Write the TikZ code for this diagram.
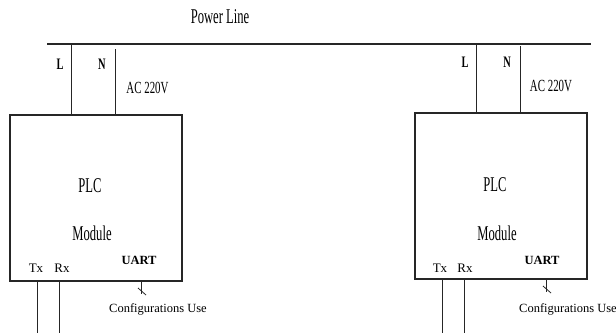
\documentclass[tikz,border=0pt]{standalone}
\usepackage{fontspec}
\setmainfont{Liberation Serif}
\usepackage{graphicx}
\begin{document}
\begin{tikzpicture}[x=1pt,y=-1pt,
  wire/.style={line width=1pt, draw=black!85},
  modbox/.style={draw=black!85, line width=1.1pt, minimum width=172pt, minimum height=166pt, inner sep=0pt},
  cnd/.style={inner sep=0pt, font=\fontsize{21}{21}\selectfont},
  lab/.style={inner sep=0pt, font=\fontsize{16}{16}\selectfont},
  sml/.style={inner sep=0pt, font=\fontsize{12.5}{12.5}\selectfont},
  bld/.style={inner sep=0pt, font=\fontsize{12.5}{12.5}\selectfont\bfseries}]
\useasboundingbox (0,0) rectangle (616,333);
% power line
\coordinate (plA) at (47,44);
\coordinate (plB) at (591,44);
\draw[wire, line width=1.4pt] (plA) -- (plB);
\node[cnd] (title) at (220,17) {\scalebox{0.6}[1]{Power Line}};
% boxes
\node[modbox] (boxA) at (96,198) {};
\node[modbox] (boxB) at (501,196) {};
% taps
\coordinate (LA) at (71,44);
\coordinate (NA) at (115,49);
\coordinate (LB) at (476,44);
\coordinate (NB) at (520,46);
\draw[wire] (LA) -- (LA |- boxA.north);
\draw[wire] (NA) -- (NA |- boxA.north);
\draw[wire] (LB) -- (LB |- boxB.north);
\draw[wire] (NB) -- (NB |- boxB.north);
\node[lab] (lLA) at (60,64) {\scalebox{0.65}[1]{\bfseries L}};
\node[lab] (lNA) at (102,64) {\scalebox{0.65}[1]{\bfseries N}};
\node[lab] (lLB) at (465,62) {\scalebox{0.65}[1]{\bfseries L}};
\node[lab] (lNB) at (507,62) {\scalebox{0.65}[1]{\bfseries N}};
\node[lab, font=\fontsize{17}{17}\selectfont] (acA) at (147.5,88) {\scalebox{0.64}[1]{AC 220V}};
\node[lab, font=\fontsize{17}{17}\selectfont] (acB) at (551,86) {\scalebox{0.64}[1]{AC 220V}};
% box texts
\node[cnd] (plcA) at (90,186) {\scalebox{0.6}[1]{PLC}};
\node[cnd] (modA) at (92,233) {\scalebox{0.6}[1]{Module}};
\node[cnd] (plcB) at (495,185) {\scalebox{0.6}[1]{PLC}};
\node[cnd] (modB) at (497,233) {\scalebox{0.6}[1]{Module}};
\node[bld] (uaA) at (139,260) {UART};
\node[bld] (uaB) at (542,260) {UART};
\node[sml, font=\fontsize{13}{13}\selectfont] (txA) at (36,268) {Tx};
\node[sml, font=\fontsize{13}{13}\selectfont] (rxA) at (62,268) {Rx};
\node[sml, font=\fontsize{13}{13}\selectfont] (txB) at (440,268) {Tx};
\node[sml, font=\fontsize{13}{13}\selectfont] (rxB) at (465,268) {Rx};
% Tx/Rx lines
\coordinate (tA) at (37,333);
\coordinate (rA) at (59,333);
\coordinate (tB) at (442,333);
\coordinate (rB) at (464,333);
\draw[wire] (tA |- boxA.south) -- (tA);
\draw[wire] (rA |- boxA.south) -- (rA);
\draw[wire] (tB |- boxB.south) -- (tB);
\draw[wire] (rB |- boxB.south) -- (rB);
% UART ticks
\coordinate (uA) at (141,294);
\coordinate (uB) at (546,292);
\draw[wire, line width=0.8pt] (uA |- boxA.south) -- (uA);
\draw[wire, line width=0.8pt] ([shift={(-3,-6)}]uA) -- ([shift={(5,1)}]uA);
\draw[wire, line width=0.8pt] (uB |- boxB.south) -- (uB);
\draw[wire, line width=0.8pt] ([shift={(-3,-6)}]uB) -- ([shift={(5,1)}]uB);
\node[sml] (cfA) at (158,309) {Configurations Use};
\node[sml] (cfB) at (568,309) {Configurations Use};
\end{tikzpicture}
\end{document}
